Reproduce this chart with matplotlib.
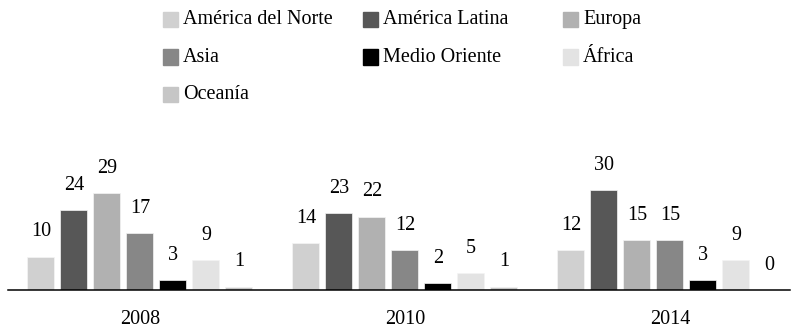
import numpy as np
import matplotlib.pyplot as plt
from matplotlib.patches import Rectangle

plt.rcParams['font.family'] = ['Liberation Serif', 'DejaVu Serif']

years = ['2008', '2010', '2014']
regions = ['América del Norte', 'América Latina', 'Europa', 'Asia',
           'Medio Oriente', 'África', 'Oceanía']
norte = [10, 14, 12]
latina = [24, 23, 30]
europa = [29, 22, 15]
asia = [17, 12, 15]
medio_oriente = [3, 2, 3]
africa = [9, 5, 9]
oceania = [1, 1, 0]
series = [norte, latina, europa, asia, medio_oriente, africa, oceania]
colors = ['#d0d0d0', '#575757', '#b1b1b1', '#878787', '#000000', '#e3e3e3', '#c6c6c6']

fig = plt.figure(figsize=(7.95, 3.29), dpi=100)
ax = fig.add_axes([0.01, 0.1185, 0.9837, 0.4255])

x = np.arange(len(years))
pitch = 0.1245
width = 0.102
for i, (vals, col) in enumerate(zip(series, colors)):
    pos = x + (i - 3) * pitch
    bars = ax.bar(pos, vals, width, color=col, edgecolor='#f4f4f4', linewidth=0.5)
    for b, v in zip(bars, vals):
        ax.annotate(str(v), (b.get_x() + b.get_width() / 2, v),
                    xytext=(0, 18), textcoords='offset points',
                    ha='center', va='center', fontsize=14.5)

ax.set_xlim(-0.498, 2.453)
ax.set_ylim(0, 42)
for s in ['top', 'left', 'right']:
    ax.spines[s].set_visible(False)
ax.spines['bottom'].set_linewidth(1.1)
ax.set_yticks([])
ax.set_xticks(x)
ax.set_xticklabels(years, fontsize=14.5)
ax.tick_params(axis='x', length=0, pad=14.5)

# legend laid out in rows of three
col_x = [163, 363, 563]
row_y = [19.5, 57, 94.5]
W, H = 795, 329
for i, (name, col) in enumerate(zip(regions, colors)):
    px = col_x[i % 3]
    py = row_y[i // 3]
    fig.patches.append(Rectangle((px / W, 1 - (py + 7.5) / H), 15 / W, 15 / H,
                                 transform=fig.transFigure, color=col))
    fig.text((px + 20) / W, 1 - py / H, name, fontsize=14.5,
             ha='left', va='center')

fig.savefig('out.png', dpi=100)
